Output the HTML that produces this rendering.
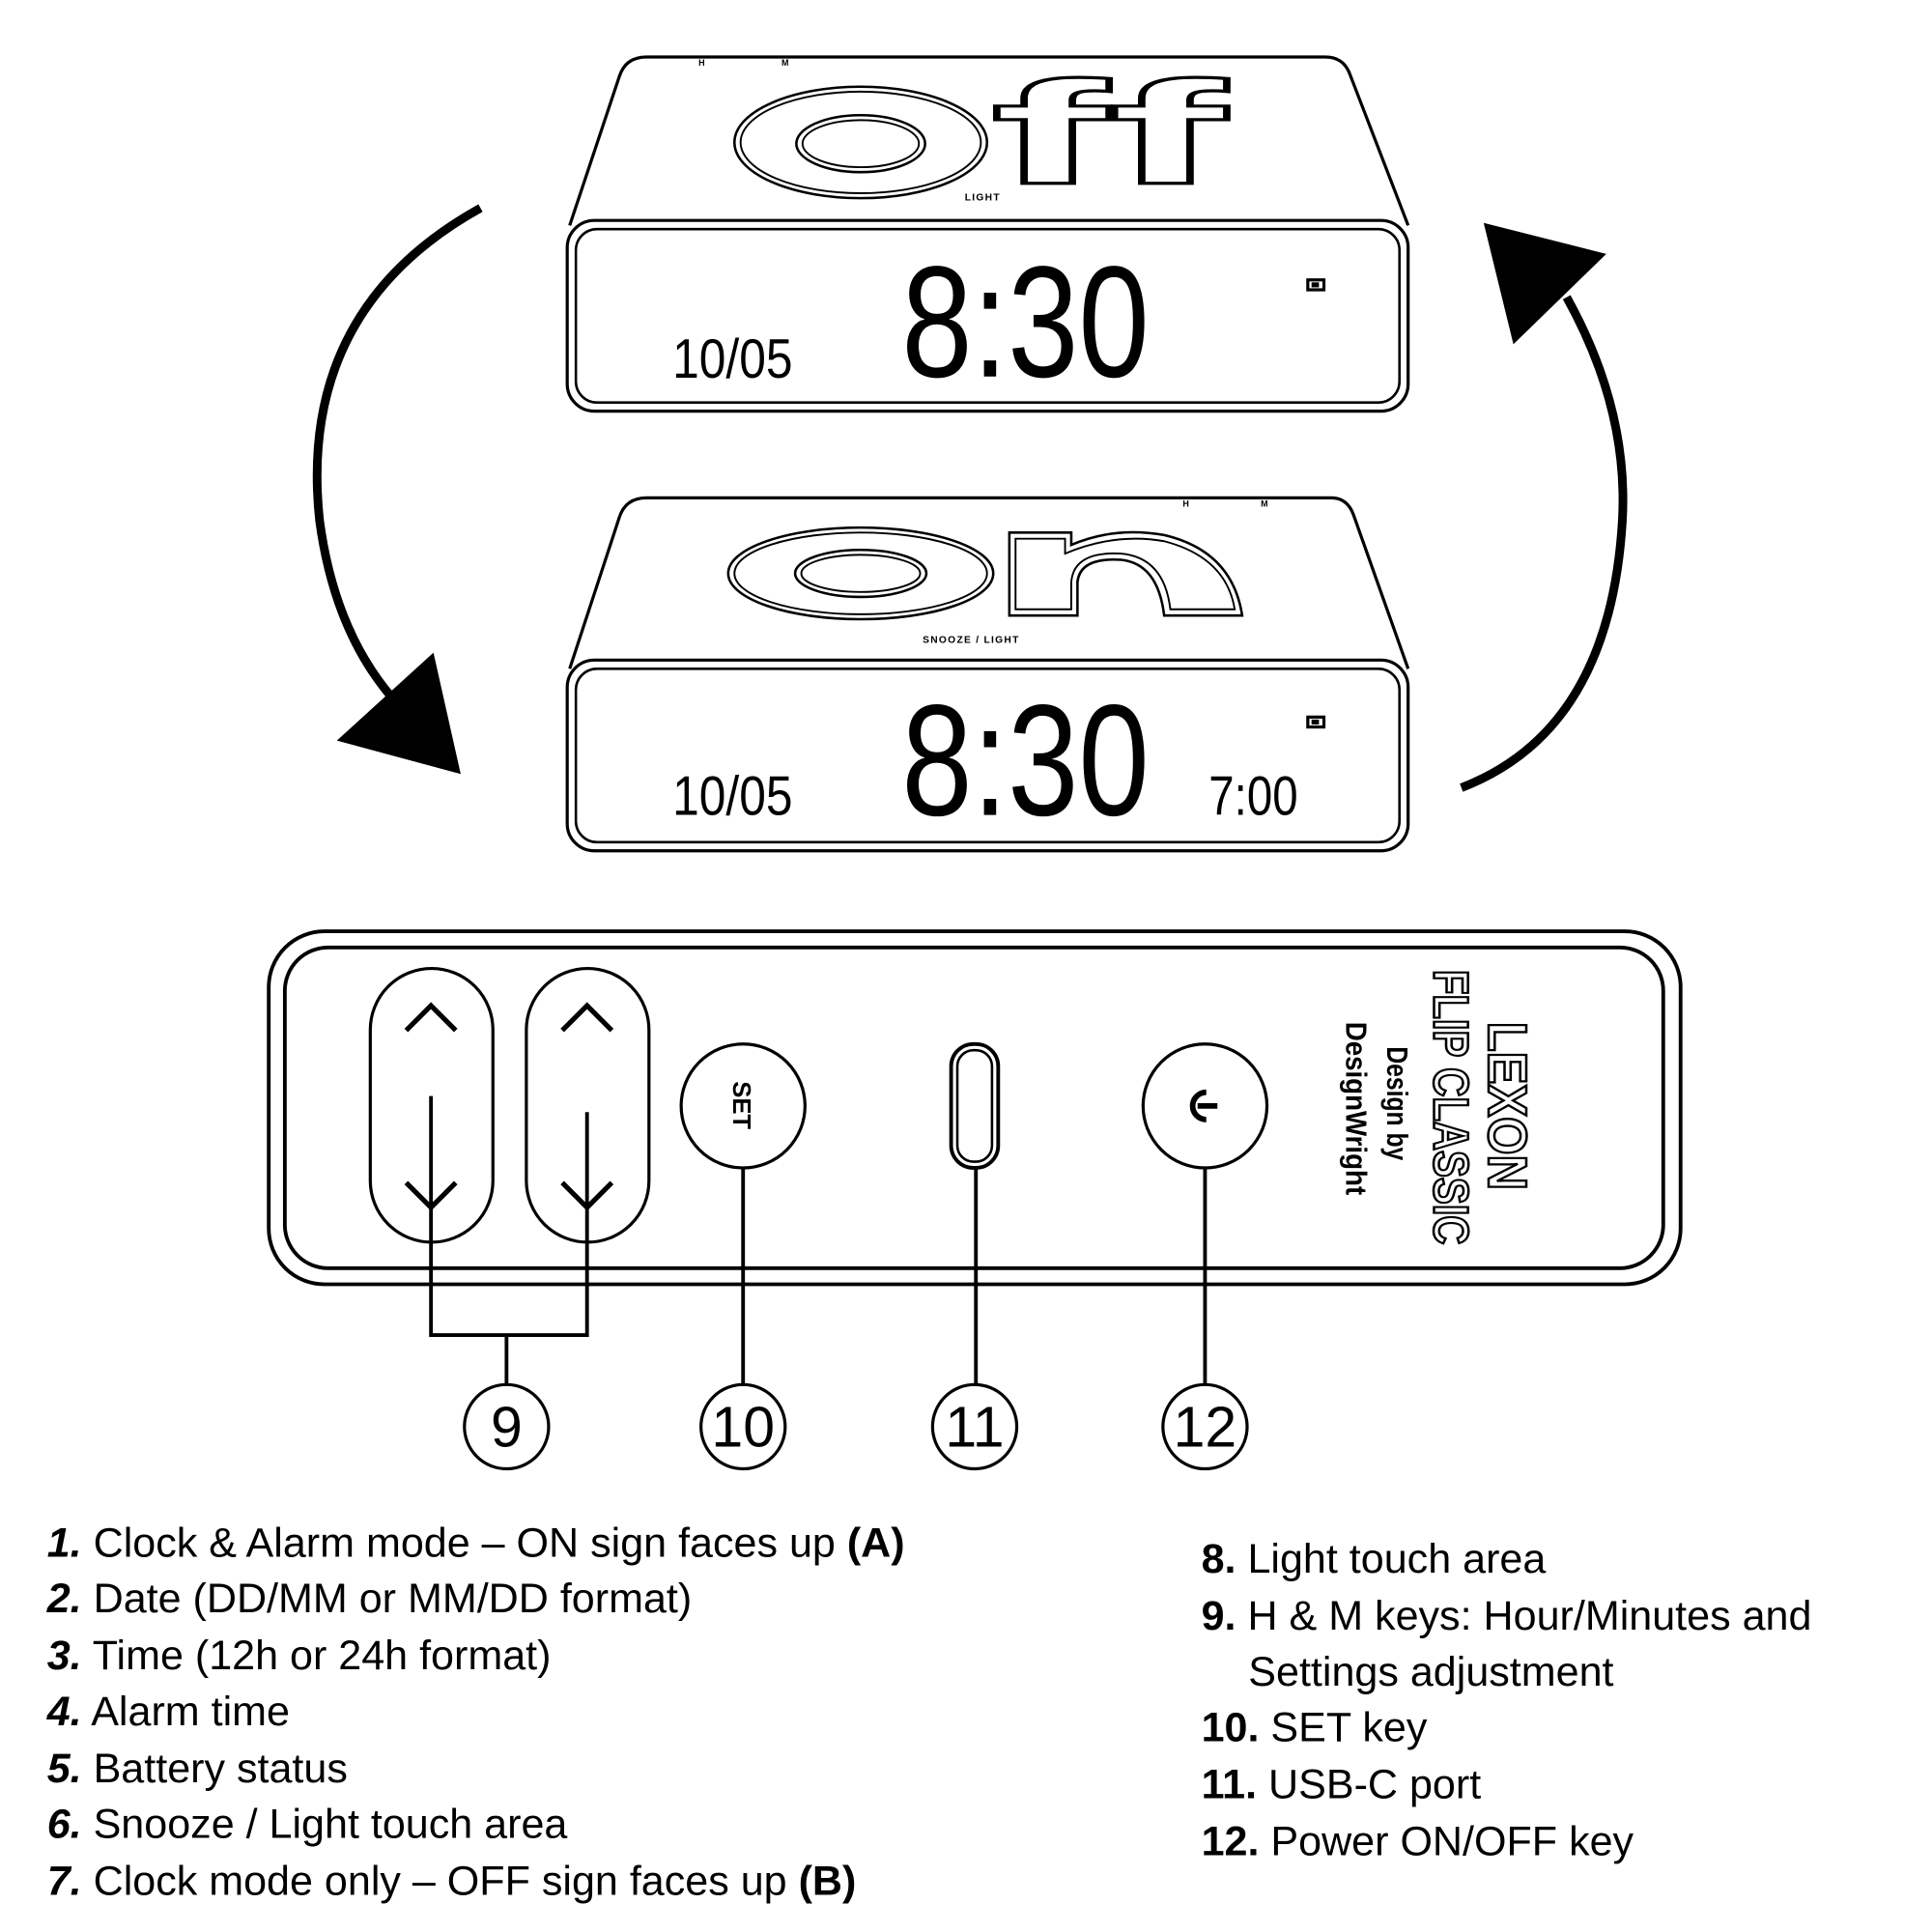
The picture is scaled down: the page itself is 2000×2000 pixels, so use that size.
<!DOCTYPE html>
<html><head><meta charset="utf-8"><style>html,body{margin:0;padding:0;background:#fff}svg{display:block}</style></head>
<body>
<svg width="2000" height="2000" viewBox="0 0 1560 1560" xmlns="http://www.w3.org/2000/svg" font-family="Liberation Sans, sans-serif">
<rect width="1560" height="1560" fill="#fff"/>
<g fill="none" stroke="#000">
<!-- Top clock -->
<path d="M460,182 L500,62 Q505,46 522,46 L1070,46 Q1085,46 1090,60 L1137,182" stroke-width="2.5"/>
<rect x="458" y="178" width="679" height="154" rx="22" stroke-width="2.5"/>
<rect x="465" y="185" width="665" height="140" rx="17" stroke-width="2"/>
<ellipse cx="695" cy="115" rx="102" ry="45" stroke-width="2"/>
<ellipse cx="695" cy="115" rx="97" ry="41" stroke-width="1.5"/>
<ellipse cx="695" cy="116" rx="52" ry="23" stroke-width="2"/>
<ellipse cx="695" cy="116" rx="47" ry="19" stroke-width="1.5"/>
<!-- Bottom clock -->
<path d="M460,540 L500,418 Q505,402 522,402 L1075,402 Q1088,402 1093,416 L1137,540" stroke-width="2.5"/>
<rect x="458" y="533" width="679" height="154" rx="22" stroke-width="2.5"/>
<rect x="465" y="540" width="665" height="140" rx="17" stroke-width="2"/>
<ellipse cx="695" cy="463" rx="107" ry="37" stroke-width="2"/>
<ellipse cx="695" cy="463" rx="102" ry="33" stroke-width="1.5"/>
<ellipse cx="695" cy="463" rx="53" ry="19" stroke-width="2"/>
<ellipse cx="695" cy="463" rx="48" ry="15" stroke-width="1.5"/>
<path d="M815,430 L865,430 L865,440 Q900,425 940,432 Q995,445 1003,497 L940,497 Q935,455 905,452 Q872,450 870,470 L870,497 L815,497 Z" stroke-width="2"/>
<path d="M820,435 L860,435 L860,447 Q900,430 940,437 Q990,450 997,492 L945,492 Q940,450 905,447 Q867,445 865,470 L865,492 L820,492 Z" stroke-width="1.5"/>
<!-- arrows -->
<path d="M388,168 Q240,250 258,420 Q270,510 318,565" stroke-width="7"/>
<path d="M1180,636 Q1300,590 1310,420 Q1315,330 1265,240" stroke-width="7"/>
</g>
<polygon points="272,598 350,527 372,625" fill="#000"/>
<polygon points="1198,180 1297,205 1222,278" fill="#000"/>
<!-- off text -->
<text x="800" y="148" font-size="118" font-weight="bold" fill="#fff" stroke="#000" stroke-width="2.5" textLength="190" lengthAdjust="spacingAndGlyphs">ff</text>
<text x="779" y="162" font-size="8" font-weight="bold" letter-spacing="1">LIGHT</text>
<text x="564" y="53" font-size="7" font-weight="bold">H</text>
<text x="631" y="53" font-size="7" font-weight="bold">M</text>
<text x="745" y="519" font-size="8" font-weight="bold" letter-spacing="1">SNOOZE / LIGHT</text>
<text x="955" y="409" font-size="7" font-weight="bold">H</text>
<text x="1018" y="409" font-size="7" font-weight="bold">M</text>
<!-- LCD digits -->
<g font-family="Liberation Sans, sans-serif">
<text x="728" y="304" font-size="128" textLength="200" lengthAdjust="spacingAndGlyphs">8:30</text>
<text x="543" y="305" font-size="45" textLength="97" lengthAdjust="spacingAndGlyphs">10/05</text>
<text x="728" y="658" font-size="128" textLength="200" lengthAdjust="spacingAndGlyphs">8:30</text>
<text x="543" y="658" font-size="45" textLength="97" lengthAdjust="spacingAndGlyphs">10/05</text>
<text x="976" y="658" font-size="45" textLength="72" lengthAdjust="spacingAndGlyphs">7:00</text>
</g>
<rect x="1056" y="226" width="13" height="8" fill="none" stroke="#000" stroke-width="2.5"/>
<rect x="1059" y="228" width="6" height="4" fill="#000"/>
<rect x="1056" y="579" width="13" height="8" fill="none" stroke="#000" stroke-width="2.5"/>
<rect x="1059" y="581" width="6" height="4" fill="#000"/>
<!-- Bottom panel -->
<g fill="none" stroke="#000">
<rect x="217" y="752" width="1140" height="285" rx="45" stroke-width="3"/>
<rect x="230" y="765" width="1113" height="259" rx="35" stroke-width="3"/>
<rect x="299" y="782" width="99" height="221" rx="49.5" stroke-width="2.5"/>
<rect x="425" y="782" width="99" height="221" rx="49.5" stroke-width="2.5"/>
<path d="M328,832 L348,812 L368,832 M454,832 L474,812 L494,832" stroke-width="4"/>
<path d="M328,955 L348,975 L368,955 M454,955 L474,975 L494,955" stroke-width="4"/>
<path d="M348,885 L348,1078 L474,1078 L474,898 M409,1078 L409,1118" stroke-width="3"/>
<circle cx="600" cy="893" r="50" stroke-width="2.5"/>
<path d="M600,943 L600,1118" stroke-width="3"/>
<rect x="768" y="843" width="38" height="100" rx="18" stroke-width="3"/>
<rect x="773" y="848" width="28" height="90" rx="13" stroke-width="2"/>
<path d="M788,943 L788,1118" stroke-width="3"/>
<circle cx="973" cy="893" r="50" stroke-width="2.5"/>
<path d="M974,882 A11,11 0 1 0 974,904" stroke-width="4.5"/>
<path d="M967,893 L983,893" stroke-width="4.5"/>
<path d="M973,943 L973,1118" stroke-width="3"/>
<circle cx="409" cy="1152" r="34" stroke-width="2.5"/>
<circle cx="600" cy="1152" r="34" stroke-width="2.5"/>
<circle cx="787" cy="1152" r="34" stroke-width="2.5"/>
<circle cx="973" cy="1152" r="34" stroke-width="2.5"/>
</g>
<text x="0" y="0" font-size="20" font-weight="bold" transform="translate(592,873) rotate(90)">SET</text>
<g text-anchor="middle">
<text x="409" y="1168" font-size="46">9</text>
<text x="600" y="1168" font-size="46">10</text>
<text x="787" y="1168" font-size="46">11</text>
<text x="973" y="1168" font-size="46">12</text>
</g>
<g font-weight="bold">
<text transform="translate(1202,825) rotate(90)" font-size="44" fill="#fff" stroke="#000" stroke-width="2" textLength="136" lengthAdjust="spacingAndGlyphs">LEXON</text>
<text transform="translate(1158,783) rotate(90)" font-size="40" fill="#fff" stroke="#000" stroke-width="2" textLength="222" lengthAdjust="spacingAndGlyphs">FLIP CLASSIC</text>
<text transform="translate(1120,845) rotate(90)" font-size="24" textLength="92" lengthAdjust="spacingAndGlyphs">Design by</text>
<text transform="translate(1087,825) rotate(90)" font-size="24" textLength="140" lengthAdjust="spacingAndGlyphs">DesignWright</text>
</g>
<!-- Legend -->
<g font-size="33.6">
<text x="38" y="1257"><tspan font-weight="bold" font-style="italic">1.</tspan> Clock &amp; Alarm mode – ON sign faces up <tspan font-weight="bold">(A)</tspan></text>
<text x="38" y="1302"><tspan font-weight="bold" font-style="italic">2.</tspan> Date (DD/MM or MM/DD format)</text>
<text x="38" y="1348"><tspan font-weight="bold" font-style="italic">3.</tspan> Time (12h or 24h format)</text>
<text x="38" y="1393"><tspan font-weight="bold" font-style="italic">4.</tspan> Alarm time</text>
<text x="38" y="1439"><tspan font-weight="bold" font-style="italic">5.</tspan> Battery status</text>
<text x="38" y="1484"><tspan font-weight="bold" font-style="italic">6.</tspan> Snooze / Light touch area</text>
<text x="38" y="1530"><tspan font-weight="bold" font-style="italic">7.</tspan> Clock mode only – OFF sign faces up <tspan font-weight="bold">(B)</tspan></text>
<text x="970" y="1270"><tspan font-weight="bold">8.</tspan> Light touch area</text>
<text x="970" y="1316"><tspan font-weight="bold">9.</tspan> H &amp; M keys: Hour/Minutes and</text>
<text x="1008" y="1361">Settings adjustment</text>
<text x="970" y="1406"><tspan font-weight="bold">10.</tspan> SET key</text>
<text x="970" y="1452"><tspan font-weight="bold">11.</tspan> USB-C port</text>
<text x="970" y="1498"><tspan font-weight="bold">12.</tspan> Power ON/OFF key</text>
</g>
</svg>
</body></html>
